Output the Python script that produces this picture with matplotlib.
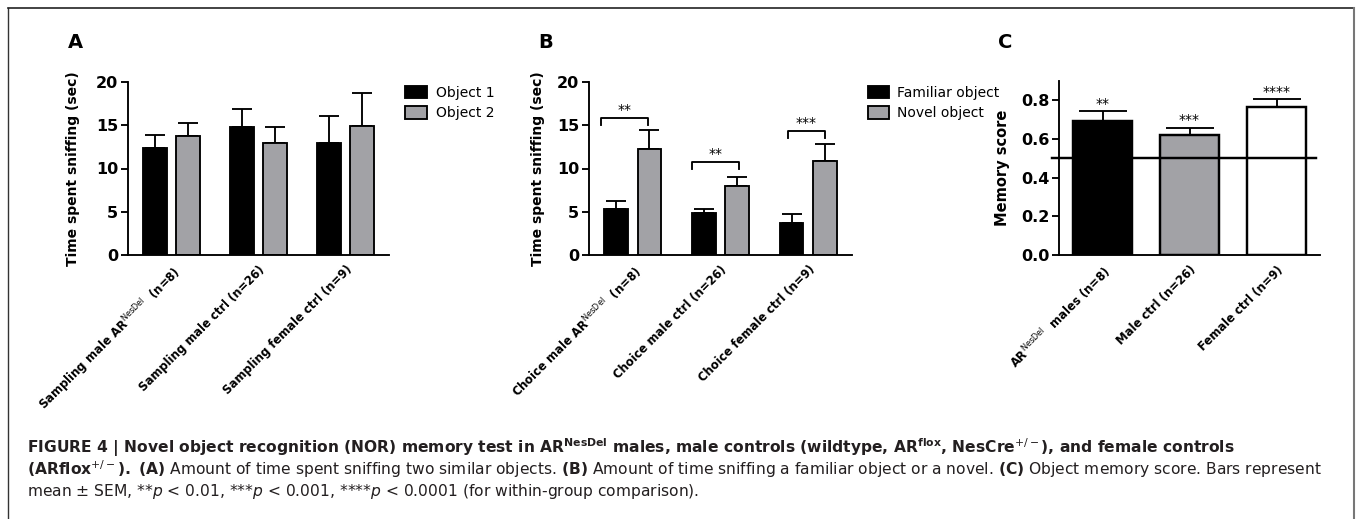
import matplotlib
matplotlib.use("Agg")
import matplotlib.pyplot as plt
from matplotlib.lines import Line2D
from matplotlib.patches import Patch
import numpy as np

# panel A: sampling phase
labels_a = [r"Sampling male AR$^{\mathrm{NesDel}}$  (n=8)",
            "Sampling male ctrl (n=26)",
            "Sampling female ctrl (n=9)"]
obj1_mean = [12.4, 14.8, 13.0]
obj1_sem = [1.45, 2.1, 3.05]
obj2_mean = [13.7, 13.0, 14.9]
obj2_sem = [1.6, 1.85, 3.8]

# panel B: choice phase
labels_b = [r"Choice male AR$^{\mathrm{NesDel}}$  (n=8)",
            "Choice male ctrl (n=26)",
            "Choice female ctrl (n=9)"]
fam_mean = [5.3, 4.8, 3.75]
fam_sem = [0.95, 0.5, 1.0]
nov_mean = [12.3, 8.0, 10.85]
nov_sem = [2.1, 1.0, 1.95]
sig_b = ["**", "**", "***"]
bracket_y = [15.8, 10.8, 14.35]
bracket_left = [-0.36, -0.32, -0.23]
bracket_right = [0.17, 0.21, 0.19]

# panel C: memory score
labels_c = [r"AR$^{\mathrm{NesDel}}$  males (n=8)",
            "Male ctrl (n=26)",
            "Female ctrl (n=9)"]
score_mean = [0.693, 0.623, 0.765]
score_sem = [0.05, 0.033, 0.04]
sig_c = ["**", "***", "****"]
chance = 0.5

GRAY = "#a2a2a6"
LW = 1.35

plt.rcParams["font.family"] = ["DejaVu Sans"]
plt.rcParams["mathtext.fontset"] = "dejavusans"

fig = plt.figure(figsize=(13.58, 5.19), dpi=100)
W, H = 1358., 519.


def px_axes(left, top, right, bottom):
    return fig.add_axes([left / W, 1 - bottom / H, (right - left) / W, (bottom - top) / H])


def style(ax, yticks, ylabel, xlabels, fmt, ylsize):
    for s in ["top", "right"]:
        ax.spines[s].set_visible(False)
    for s in ["left", "bottom"]:
        ax.spines[s].set_linewidth(LW)
    ax.set_yticks(yticks, [fmt % t for t in yticks], fontsize=11.5, fontweight="bold")
    ax.set_xticks(range(len(xlabels)), xlabels, rotation=45, ha="right",
                  rotation_mode="anchor", fontsize=8.4, fontweight="bold")
    ax.tick_params(axis="y", length=5, width=LW, pad=2)
    ax.tick_params(axis="x", length=0, pad=6)
    ax.set_ylabel(ylabel, fontsize=ylsize, fontweight="bold")
    ax.set_xlim(-0.5, 2.5)


def bars(ax, x, mean, sem, color, width, cap):
    ax.bar(x, mean, width, color=color, edgecolor="black", linewidth=LW, zorder=2)
    ax.errorbar(x, mean, yerr=[np.zeros(len(mean)), sem], fmt="none", ecolor="black",
                elinewidth=LW, capsize=cap, capthick=LW, zorder=1)


x = np.arange(3)
off, bw = 0.19, 0.27

# A
axA = px_axes(128, 82, 389, 255)
bars(axA, x - off, obj1_mean, obj1_sem, "black", bw, 7)
bars(axA, x + off, obj2_mean, obj2_sem, GRAY, bw, 7)
axA.set_ylim(0, 20)
style(axA, [0, 5, 10, 15, 20], "Time spent sniffing (sec)", labels_a, "%d", 10)
axA.yaxis.set_label_coords(-0.184, 0.5)
axA.legend(handles=[Patch(facecolor="black", edgecolor="black", linewidth=LW, label="Object 1"),
                    Patch(facecolor=GRAY, edgecolor="black", linewidth=LW, label="Object 2")],
           loc="upper left", bbox_to_anchor=(405 / W, 1 - 86 / H), bbox_transform=fig.transFigure,
           frameon=False, fontsize=10, borderpad=0, borderaxespad=0, handlelength=1.6,
           handleheight=1.0, handletextpad=0.6, labelspacing=0.45)

# B
axB = px_axes(589, 82, 852, 255)
bars(axB, x - off, fam_mean, fam_sem, "black", bw, 7.5)
bars(axB, x + off, nov_mean, nov_sem, GRAY, bw, 7.5)
axB.set_ylim(0, 20)
style(axB, [0, 5, 10, 15, 20], "Time spent sniffing (sec)", labels_b, "%d", 10)
axB.yaxis.set_label_coords(-0.167, 0.5)
for i in range(3):
    yb = bracket_y[i]
    axB.plot([i + bracket_left[i], i + bracket_left[i], i + bracket_right[i], i + bracket_right[i]],
             [yb - 0.8, yb, yb, yb - 0.8], color="black", lw=LW)
    axB.text(i + (bracket_left[i] + bracket_right[i]) / 2, yb + 0.1, sig_b[i],
             ha="center", va="bottom", fontsize=10)
axB.legend(handles=[Patch(facecolor="black", edgecolor="black", linewidth=LW, label="Familiar object"),
                    Patch(facecolor=GRAY, edgecolor="black", linewidth=LW, label="Novel object")],
           loc="upper left", bbox_to_anchor=(868 / W, 1 - 86 / H), bbox_transform=fig.transFigure,
           frameon=False, fontsize=10, borderpad=0, borderaxespad=0, handlelength=1.5,
           handleheight=1.0, handletextpad=0.6, labelspacing=0.45)

# C
axC = px_axes(1059, 81, 1320, 255)
axC.bar(x, score_mean, 0.68, color=["black", GRAY, "white"], edgecolor="black",
        linewidth=LW * 1.3, zorder=2)
axC.errorbar(x, score_mean, yerr=[np.zeros(3), score_sem], fmt="none", ecolor="black",
             elinewidth=LW, capsize=17, capthick=LW, zorder=1)
axC.axhline(chance, xmin=-0.025, xmax=0.985, color="black", lw=LW * 1.3, clip_on=False, zorder=3)
for i in range(3):
    axC.text(i, score_mean[i] + score_sem[i] + 0.004, sig_c[i], ha="center", va="bottom", fontsize=10)
axC.set_ylim(0, 0.9)
style(axC, [0.0, 0.2, 0.4, 0.6, 0.8], "Memory score", labels_c, "%.1f", 10.5)
axC.yaxis.set_label_coords(-0.188, 0.5)

# panel letters
for lx, letter in [(68, "A"), (538, "B"), (998, "C")]:
    fig.text(lx / W, 1 - 48 / H, letter, fontsize=14, fontweight="bold", ha="left", va="baseline")

# frame around the figure
fig.add_artist(Line2D([8 / W, 8 / W], [0, 1 - 8 / H], color="#333333", lw=1))
fig.add_artist(Line2D([8 / W, 1354 / W], [1 - 8 / H, 1 - 8 / H], color="#222222", lw=1.2))
fig.add_artist(Line2D([1354 / W, 1354 / W], [0, 1 - 8 / H], color="#777777", lw=1.5))

# caption
cap1 = (r"FIGURE 4 | Novel object recognition (NOR) memory test in AR$^{\mathbf{NesDel}}$ males, "
        r"male controls (wildtype, AR$^{\mathbf{flox}}$, NesCre$^{+/-}$), and female controls")
cap2 = (r"$\mathbf{(ARflox}^{+/-}\mathbf{).\ (A)}$ Amount of time spent sniffing two similar objects. "
        r"$\mathbf{(B)}$ Amount of time sniffing a familiar object or a novel. "
        r"$\mathbf{(C)}$ Object memory score. Bars represent")
cap3 = r"mean $\pm$ SEM, **$p$ < 0.01, ***$p$ < 0.001, ****$p$ < 0.0001 (for within-group comparison)."
fig.text(27 / W, 1 - 453 / H, cap1, fontsize=11.2, fontweight="bold", va="baseline", color="#231f20")
fig.text(27 / W, 1 - 475 / H, cap2, fontsize=11.2, va="baseline", color="#231f20")
fig.text(27 / W, 1 - 496 / H, cap3, fontsize=11.2, va="baseline", color="#231f20")

fig.savefig("out.png", dpi=100)
